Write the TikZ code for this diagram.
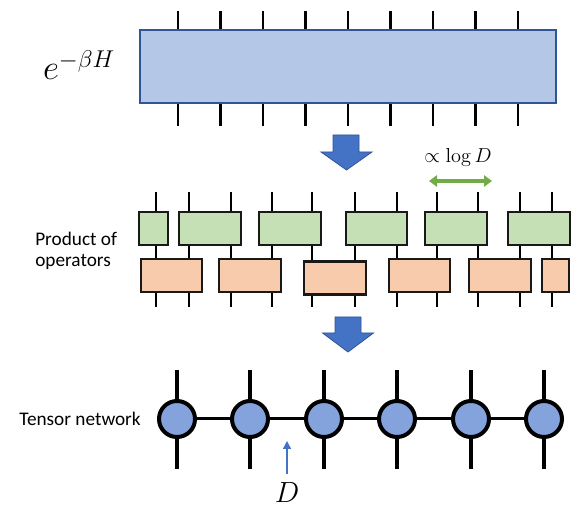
\documentclass[tikz,border=0pt]{standalone}
\usepackage[no-math]{fontspec}
\setmainfont{Carlito}
\usetikzlibrary{arrows.meta}

\definecolor{boxblue}{RGB}{180,199,231}
\definecolor{edgeblue}{RGB}{47,85,151}
\definecolor{arrowblue}{RGB}{68,114,196}
\definecolor{opgreen}{RGB}{197,224,180}
\definecolor{oporange}{RGB}{248,203,173}
\definecolor{sitefill}{RGB}{132,163,220}
\definecolor{loggreen}{RGB}{112,173,71}

\tikzset{
  leg/.style={line width=0.068000cm, black},
  siteleg/.style={line width=0.087500cm, black},
  bond/.style={line width=0.075000cm, black},
  opbox/.style={draw=black!90, line width=0.055000cm, minimum height=0.825000cm, inner sep=0pt},
  greenop/.style={opbox, fill=opgreen},
  orangeop/.style={opbox, fill=oporange},
  site/.style={circle, draw=black, line width=0.100000cm, fill=sitefill, minimum size=0.900000cm, inner sep=0pt},
  blockarrow/.style={fill=arrowblue, draw=edgeblue, line width=0.020000cm},
  label/.style={inner sep=0pt, font=\fontsize{13.7}{15}\selectfont},
}

\begin{document}
\begin{tikzpicture}
            \useasboundingbox (0,0) rectangle (14.550000,12.875000);%

            % Marking operator e^{-beta H}
            \node [draw=edgeblue, fill=boxblue, line width=0.040000cm, minimum width=10.410000cm, minimum height=1.835000cm, inner sep=0pt] (hamil) at (8.700000,11.212500) {};%
            \node [inner sep=0pt] (hamillabel) at (1.975000,11.250000) {\fontsize{24}{28}\selectfont $e^{-\beta H}$};%

            % Drawing legs of e^{-beta H}
            \foreach \x in {4.450000,5.512500,6.575000,7.637500,8.700000,9.762500,10.825000,11.887500,12.950000} {
                \draw [leg] (\x,0 |- hamil.north) -- ++(0,0.445000);%
                \draw [leg] (\x,0 |- hamil.south) -- ++(0,-0.545000);%
            }

            % Drawing block arrow 1
            \draw [blockarrow] (8.325000,9.500000) -- (8.975000,9.500000) -- (8.975000,9.075000) -- (9.300000,9.075000) -- (8.662500,8.625000) -- (8.025000,9.075000) -- (8.325000,9.075000) -- cycle;%

            % Marking scale of an operator
            \node [inner sep=0pt] (scalelabel) at (11.450000,8.950000) {\fontsize{15}{18}\selectfont $\propto \log D$};%
            \coordinate (scalel) at (10.725000,8.350000);%
            \coordinate (scaler) at (12.300000,8.350000);%
            \draw [loggreen, line width=0.080000cm, {Triangle[length=0.200000cm,width=0.280000cm]}-{Triangle[length=0.200000cm,width=0.280000cm]}] (scalel) -- (scaler);%

            % Drawing legs of the product of operators
            \foreach \x in {3.900000,4.725000,5.775000,6.800000,7.800000,8.875000,9.925000,10.925000,11.950000,13.000000,13.800000}
                \draw [leg] (\x,8.075000) -- (\x,5.200000);%

            % Marking green operators
            \node [greenop, minimum width=0.725000cm] (g1) at (3.837500,7.162500) {};%
            \node [greenop, minimum width=1.550000cm] (g2) at (5.250000,7.162500) {};%
            \node [greenop, minimum width=1.550000cm] (g3) at (7.250000,7.162500) {};%
            \node [greenop, minimum width=1.525000cm] (g4) at (9.412500,7.162500) {};%
            \node [greenop, minimum width=1.550000cm] (g5) at (11.400000,7.162500) {};%
            \node [greenop, minimum width=1.550000cm] (g6) at (13.475000,7.162500) {};%

            % Marking orange operators
            \node [orangeop, minimum width=1.525000cm] (o1) at (4.287500,5.987500) {};%
            \node [orangeop, minimum width=1.550000cm] (o2) at (6.250000,5.987500) {};%
            \node [orangeop, minimum width=1.550000cm] (o3) at (8.375000,5.925000) {};%
            \node [orangeop, minimum width=1.525000cm] (o4) at (10.487500,5.987500) {};%
            \node [orangeop, minimum width=1.550000cm] (o5) at (12.500000,5.987500) {};%
            \node [orangeop, minimum width=0.675000cm] (o6) at (13.887500,5.987500) {};%

            \node [label, anchor=west, align=left] (prodlabel) at (0.875000,6.600000) {Product of\\operators};%

            % Drawing block arrow 2
            \draw [blockarrow] (8.375000,4.950000) -- (9.025000,4.950000) -- (9.025000,4.550000) -- (9.337500,4.550000) -- (8.700000,4.075000) -- (8.062500,4.550000) -- (8.375000,4.550000) -- cycle;%

            % Marking sites of the tensor network
            \node [site] (t1) at (4.425000,2.400000) {};%
            \node [site] (t2) at (6.250000,2.400000) {};%
            \node [site] (t3) at (8.100000,2.400000) {};%
            \node [site] (t4) at (9.925000,2.400000) {};%
            \node [site] (t5) at (11.775000,2.400000) {};%
            \node [site] (t6) at (13.600000,2.400000) {};%

            % Drawing bonds and physical legs
            \foreach \a/\b in {1/2,2/3,3/4,4/5,5/6}
                \draw [bond] (t\a) -- (t\b);%
            \foreach \i in {1,...,6} {
                \draw [siteleg] (t\i.north) -- ++(0,0.725000);%
                \draw [siteleg] (t\i.south) -- ++(0,-0.750000);%
            }

            \node [label, anchor=east] (tnlabel) at (3.525000,2.400000) {Tensor network};%

            % Marking bond dimension D
            \node [inner sep=0pt] (dimlabel) at (7.175000,0.550000) {\fontsize{20}{24}\selectfont $D$};%
            \coordinate (dimtip) at (7.175000,1.850000);%
            \draw [arrowblue, line width=0.037500cm, -{Triangle[length=0.200000cm,width=0.200000cm]}] ([yshift=0.220000cm]dimlabel.north) -- (dimtip);%
        \end{tikzpicture}
\end{document}
